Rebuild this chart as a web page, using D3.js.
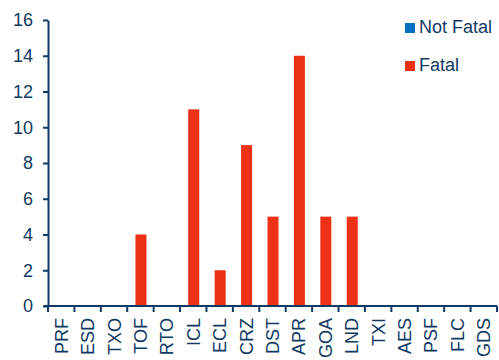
<!DOCTYPE html>
<html><head><meta charset="utf-8">
<script src="https://cdn.jsdelivr.net/npm/d3@7"></script>
<style>body{margin:0;background:#fff}svg{display:block}</style>
</head><body>
<svg id="c" width="499" height="360"></svg>
<script>
const categories = ["PRF","ESD","TXO","TOF","RTO","ICL","ECL","CRZ","DST","APR","GOA","LND","TXI","AES","PSF","FLC","GDS"];
const notFatal = [0,0,0,0,0,0,0,0,0,0,0,0,0,0,0,0,0];
const fatal = [0,0,0,4,0,11,2,9,5,14,5,5,0,0,0,0,0];
const yTicks = [0,2,4,6,8,10,12,14,16];
const seriesNames = ["Not Fatal","Fatal"];
const colors = ["#0070c0","#ee3016"];
const axisColor = "#0f3a63";
const font = "Liberation Sans, Arial, sans-serif";

const svg = d3.select("#c");
const m = {l:48, r:2, t:20, b:54};
const W = 499, H = 360;
const x = d3.scaleBand().domain(categories).range([m.l, W - m.r]).paddingInner(0).paddingOuter(0);
const y = d3.scaleLinear().domain([0,16]).range([306, 20]);

const data = categories.map((c,i)=>({cat:c, nf:notFatal[i], f:fatal[i]}));
const stack = d3.stack().keys(["nf","f"])(data);
const bw = 11;
stack.forEach((s,k)=>{
  svg.append("g").selectAll("rect").data(s).join("rect")
    .attr("x", d=>x(d.data.cat)+x.bandwidth()/2-bw/2+0.5)
    .attr("width", bw)
    .attr("y", d=>y(d[1]))
    .attr("height", d=>Math.max(0,y(d[0])-y(d[1])))
    .attr("fill", colors[k]);
});

// Y axis
const ya = svg.append("g").attr("transform",`translate(${m.l},0)`)
  .call(d3.axisLeft(y).tickValues(yTicks).tickSize(5).tickPadding(10).tickSizeOuter(0));
ya.select(".domain").attr("stroke",axisColor).attr("stroke-width",2);
ya.selectAll(".tick line").attr("stroke",axisColor).attr("stroke-width",2);
ya.selectAll("text").attr("fill",axisColor).style("font-family",font).style("font-size","18px");

// X axis
const xa = svg.append("g").attr("transform",`translate(0,306)`);
xa.append("line").attr("x1",m.l-4).attr("x2",W-m.r).attr("y1",0).attr("y2",0)
  .attr("stroke",axisColor).attr("stroke-width",2);
const bounds = categories.map(c=>x(c)).concat([x(categories[categories.length-1])+x.bandwidth()]);
xa.selectAll("line.tk").data(bounds).join("line").attr("class","tk")
  .attr("x1",d=>d).attr("x2",d=>d).attr("y1",0).attr("y2",6)
  .attr("stroke",axisColor).attr("stroke-width",2);
xa.selectAll("text").data(categories).join("text")
  .attr("transform",d=>`translate(${x(d)+x.bandwidth()/2+6.5},${12}) rotate(-90)`)
  .attr("text-anchor","end")
  .attr("fill",axisColor)
  .style("font-family",font).style("font-size","18px")
  .text(d=>d);

// Legend
const lg = svg.append("g");
seriesNames.forEach((n,i)=>{
  const yy = 23 + i*38;
  lg.append("rect").attr("x",405).attr("y",yy).attr("width",10).attr("height",10).attr("fill",colors[i]);
  lg.append("text").attr("x",419).attr("y",yy+10).attr("dy","0em")
    .attr("fill",axisColor).style("font-family",font).style("font-size","18px").text(n);
});
</script>
</body></html>
